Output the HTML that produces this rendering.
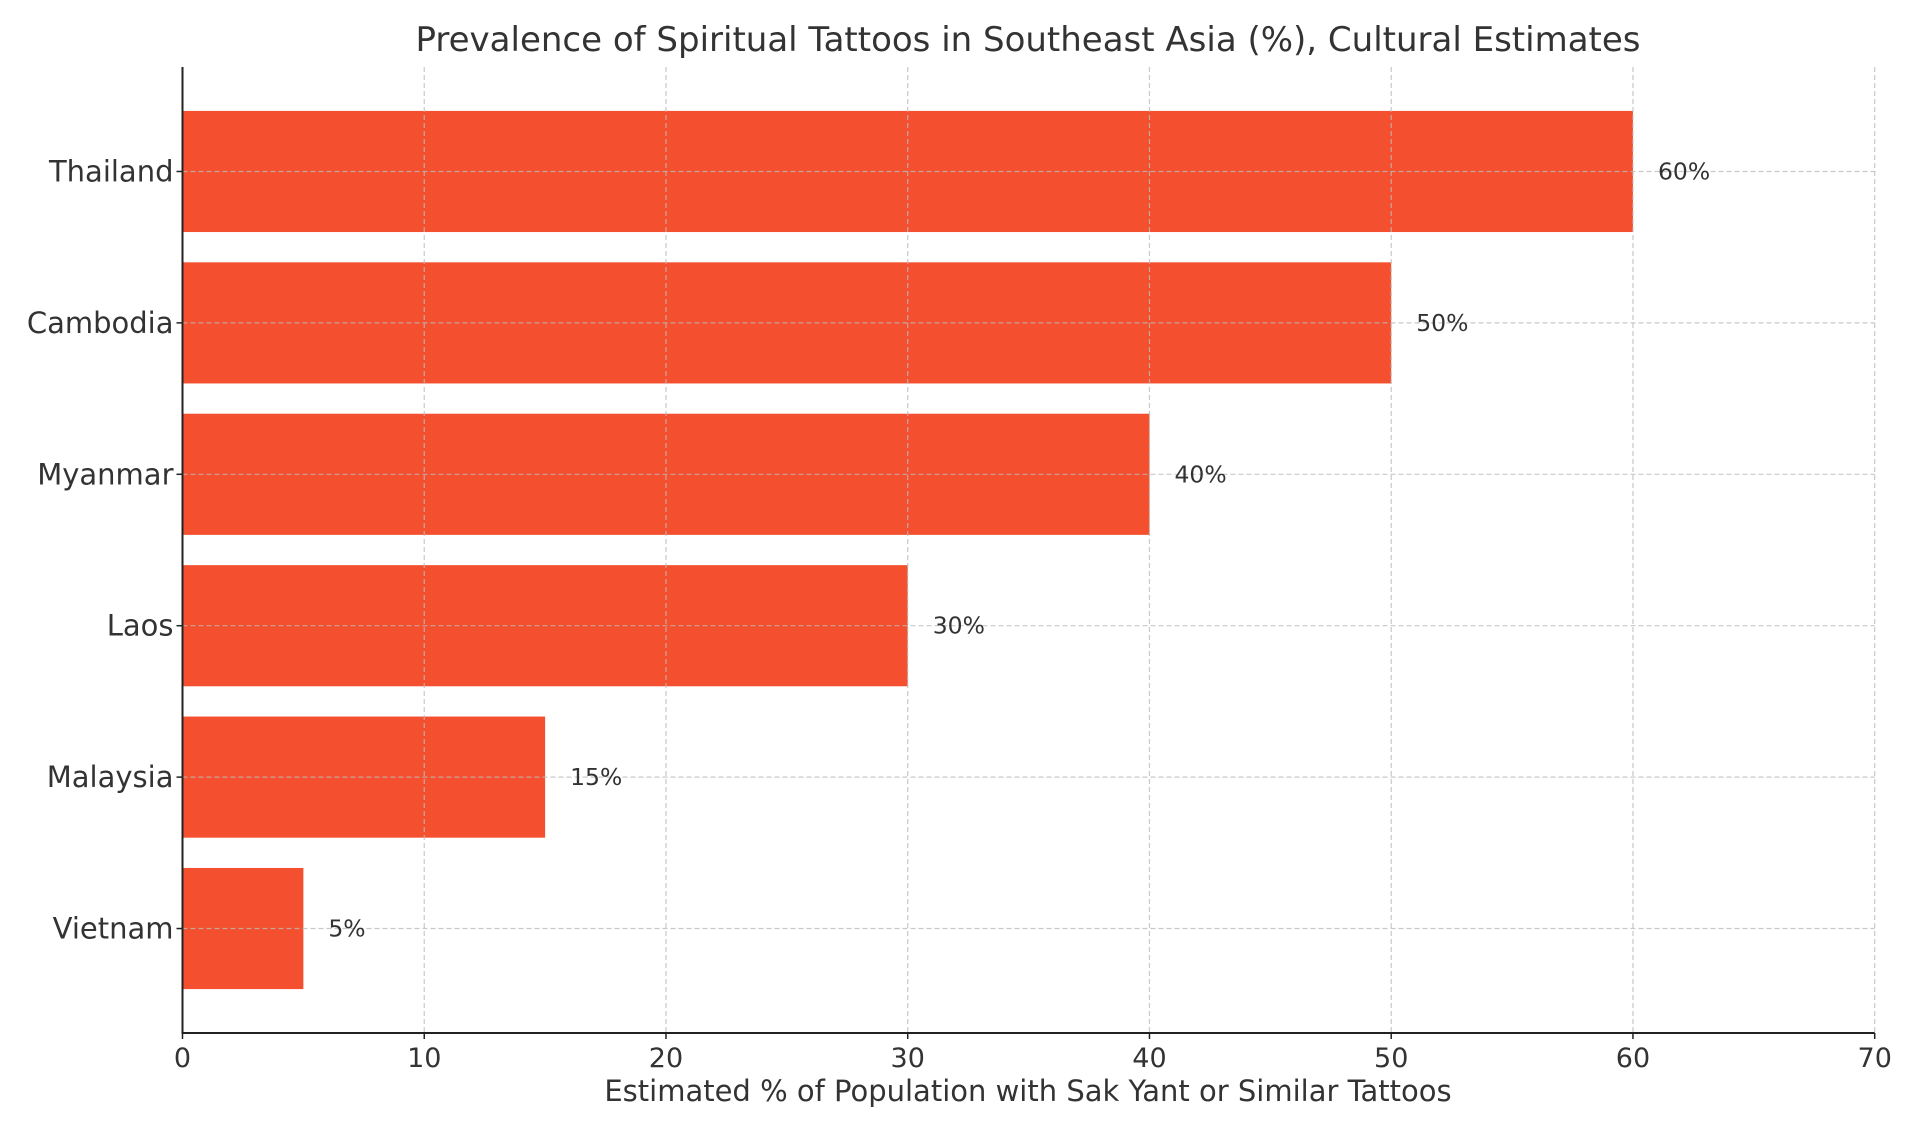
<!DOCTYPE html>
<html><head><meta charset="utf-8"><style>
body{margin:0;background:#fff;}
svg text{font-family:"DejaVu Sans","Liberation Sans",sans-serif;fill:#333;}
</style></head><body>
<svg id="chart" width="1920" height="1135" viewBox="0 0 1920 1135" xmlns="http://www.w3.org/2000/svg">
<text x="1028" y="51" text-anchor="middle" font-size="34">Prevalence of Spiritual Tattoos in Southeast Asia (%), Cultural Estimates</text>
<text x="1028" y="1101" text-anchor="middle" font-size="29">Estimated % of Population with Sak Yant or Similar Tattoos</text>
<g id="bars"></g><g id="grid"></g><g id="labels"></g><g id="axes"></g>
</svg>
<script>
const categories=["Vietnam","Malaysia","Laos","Myanmar","Cambodia","Thailand"];
const values=[5,15,30,40,50,60];
const valueLabels=["5%","15%","30%","40%","50%","60%"];
const xTicks=[0,10,20,30,40,50,60,70];
const L=182.5,R=1874.7,T=67,B=1033;
const X=v=>L+(v-0)/70*(R-L);
const Y=i=>B-(i+0.69)/6.38*(B-T);
const bw=0.8/6.38*(B-T);
const NS="http://www.w3.org/2000/svg";
function mk(tag,parent,attrs){const e=document.createElementNS(NS,tag);for(const k in attrs)e.setAttribute(k,attrs[k]);document.getElementById(parent).appendChild(e);return e;}
categories.forEach((c,i)=>{
 const r=mk('rect','bars',{x:X(0),y:Y(i)-bw/2,width:X(values[i])-X(0),height:bw,fill:'#F44F2E'});
 
 
 const g=mk('line','grid',{x1:L,x2:R,y1:Y(i),y2:Y(i),stroke:'#bbb','stroke-width':1.2,'stroke-dasharray':'5,3',opacity:0.8});
 
 
 const t=mk('text','labels',{x:L-9,y:Y(i)+10,'text-anchor':'end','font-size':29});
 t.textContent=c;
 
 
 const tk=mk('line','axes',{x1:L-6,x2:L,y1:Y(i),y2:Y(i),stroke:'#222','stroke-width':1.5});
 
 
 const v=mk('text','labels',{x:X(values[i])+25,y:Y(i)+8,'font-size':23.5});
 v.textContent=valueLabels[i];
 
 
});
xTicks.forEach(v=>{
 if(v>0){const g=mk('line','grid',{x1:X(v),x2:X(v),y1:T,y2:B,stroke:'#bbb','stroke-width':1.2,'stroke-dasharray':'5,3',opacity:0.8});
 
 }
 const tk=mk('line','axes',{x1:X(v),x2:X(v),y1:B,y2:B+6,stroke:'#222','stroke-width':1.5});
 
 
 const t=mk('text','labels',{x:X(v),y:B+34,'text-anchor':'middle','font-size':27});
 t.textContent=v;
 
 
});
const ax=mk('path','axes',{d:`M${L},${T} V${B} H${R}`,fill:'none',stroke:'#222','stroke-width':2});


</script>
</body></html>
